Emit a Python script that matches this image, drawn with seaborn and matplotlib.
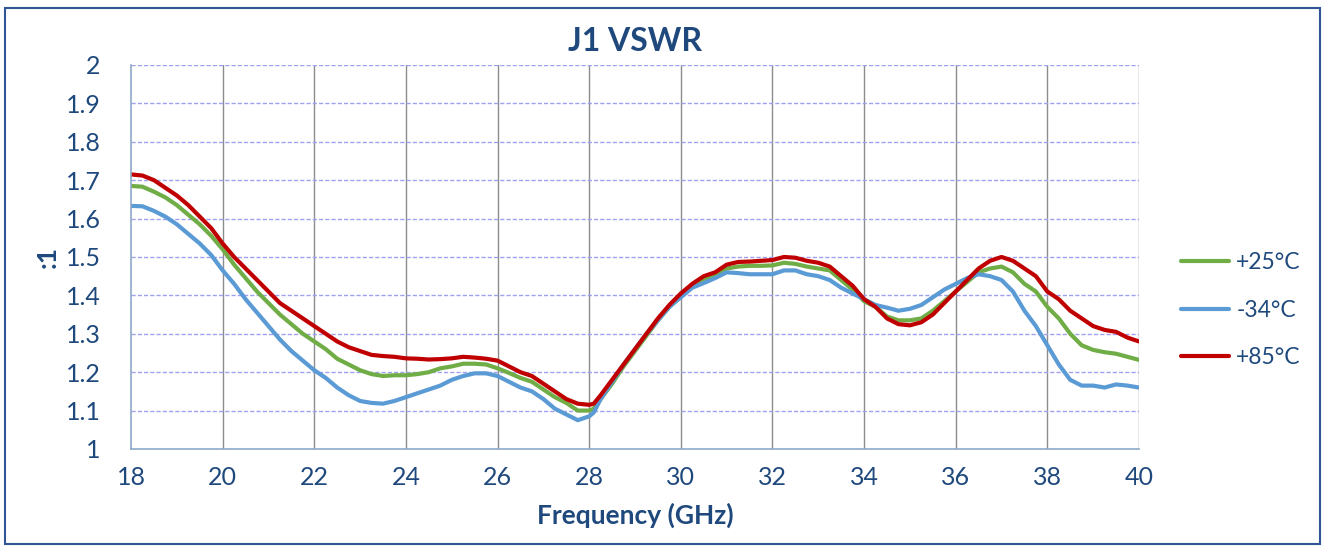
import numpy as np
import pandas as pd
import matplotlib
matplotlib.use("Agg")
import matplotlib.pyplot as plt
import matplotlib.patches as mpatches
import seaborn as sns

# ─────────────────────────────────────────────
# DATA
# ─────────────────────────────────────────────
freq_ghz = [18, 18.25, 18.5, 18.75, 19, 19.25, 19.5, 19.75, 20, 20.25, 20.5, 20.75,
            21, 21.25, 21.5, 21.75, 22, 22.25, 22.5, 22.75, 23, 23.25, 23.5, 23.75,
            24, 24.25, 24.5, 24.75, 25, 25.25, 25.5, 25.75, 26, 26.25, 26.5, 26.75,
            27, 27.25, 27.5, 27.75, 28, 28.1, 28.25, 28.5, 28.75, 29, 29.25, 29.5,
            29.75, 30, 30.25, 30.5, 30.75, 31, 31.25, 31.5, 31.75, 32, 32.25, 32.5,
            32.75, 33, 33.25, 33.5, 33.75, 34, 34.25, 34.5, 34.75, 35, 35.25, 35.5,
            35.75, 36, 36.25, 36.5, 36.75, 37, 37.25, 37.5, 37.75, 38, 38.25, 38.5,
            38.75, 39, 39.25, 39.5, 39.75, 40]

vswr_p25 = [1.685, 1.683, 1.67, 1.655, 1.635, 1.61, 1.585, 1.555, 1.52, 1.48, 1.445, 1.41,
            1.38, 1.35, 1.325, 1.30, 1.28, 1.26, 1.235, 1.22, 1.205, 1.195, 1.19, 1.192,
            1.192, 1.195, 1.20, 1.21, 1.215, 1.222, 1.222, 1.22, 1.21, 1.198, 1.185, 1.175,
            1.155, 1.135, 1.12, 1.10, 1.10, 1.105, 1.13, 1.17, 1.215, 1.255, 1.295, 1.335,
            1.37, 1.40, 1.425, 1.44, 1.455, 1.47, 1.475, 1.477, 1.477, 1.478, 1.485, 1.482,
            1.475, 1.47, 1.465, 1.44, 1.415, 1.385, 1.37, 1.345, 1.335, 1.335, 1.34, 1.36,
            1.385, 1.41, 1.435, 1.46, 1.47, 1.475, 1.46, 1.43, 1.41, 1.37, 1.34, 1.30,
            1.27, 1.258, 1.252, 1.248, 1.24, 1.232]

vswr_m34 = [1.633, 1.632, 1.62, 1.605, 1.585, 1.56, 1.535, 1.505, 1.465, 1.43, 1.39, 1.355,
            1.32, 1.285, 1.255, 1.23, 1.205, 1.185, 1.16, 1.14, 1.125, 1.12, 1.118, 1.125,
            1.135, 1.145, 1.155, 1.165, 1.18, 1.19, 1.197, 1.197, 1.19, 1.175, 1.16, 1.15,
            1.13, 1.105, 1.09, 1.075, 1.085, 1.095, 1.13, 1.175, 1.22, 1.26, 1.30, 1.335,
            1.37, 1.395, 1.42, 1.432, 1.445, 1.46, 1.458, 1.455, 1.455, 1.455, 1.465, 1.465,
            1.455, 1.45, 1.44, 1.42, 1.405, 1.39, 1.375, 1.368, 1.36, 1.365, 1.375, 1.395,
            1.415, 1.43, 1.445, 1.455, 1.45, 1.44, 1.41, 1.36, 1.32, 1.27, 1.22, 1.18,
            1.165, 1.165, 1.16, 1.168, 1.165, 1.16]

vswr_p85 = [1.715, 1.712, 1.70, 1.68, 1.66, 1.635, 1.605, 1.575, 1.535, 1.50, 1.47, 1.44,
            1.41, 1.38, 1.36, 1.34, 1.32, 1.30, 1.28, 1.265, 1.255, 1.245, 1.242, 1.24,
            1.236, 1.235, 1.233, 1.234, 1.236, 1.24, 1.238, 1.235, 1.23, 1.215, 1.20, 1.19,
            1.17, 1.15, 1.13, 1.118, 1.115, 1.118, 1.14, 1.18, 1.22, 1.26, 1.30, 1.34,
            1.375, 1.405, 1.43, 1.45, 1.46, 1.48, 1.487, 1.488, 1.49, 1.492, 1.50, 1.498,
            1.49, 1.485, 1.475, 1.45, 1.425, 1.39, 1.37, 1.34, 1.325, 1.322, 1.33, 1.35,
            1.38, 1.41, 1.44, 1.47, 1.49, 1.50, 1.49, 1.47, 1.45, 1.41, 1.39, 1.36,
            1.34, 1.32, 1.31, 1.305, 1.29, 1.28]

series_labels = ["+25°C", "-34°C", "+85°C"]
series_colors = ["#70AD47", "#5B9BD5", "#C00000"]

TEXT_BLUE = "#1F497D"

# ─────────────────────────────────────────────
# PLOT
# ─────────────────────────────────────────────
sns.set_theme(style="white")
plt.rcParams["font.family"] = ["Lato", "DejaVu Sans"]

df = pd.DataFrame({
    "freq": freq_ghz * 3,
    "vswr": vswr_p25 + vswr_m34 + vswr_p85,
    "series": sum([[s] * len(freq_ghz) for s in series_labels], []),
})

fig = plt.figure(figsize=(13.25, 5.46), dpi=100)
ax = fig.add_axes([0.0989, 0.1777, 0.7607, 0.7033])

sns.lineplot(data=df, x="freq", y="vswr", hue="series", hue_order=series_labels,
             palette=series_colors, linewidth=3, ax=ax, legend=False)

ax.set_xlim(18, 40)
ax.set_ylim(1, 2)
ax.set_xticks(np.arange(18, 41, 2))
ax.set_yticks(np.round(np.arange(1, 2.01, 0.1), 1))
ax.set_yticklabels([f"{v:g}" for v in np.arange(1, 2.01, 0.1).round(1)])

# gridlines: grey verticals, dashed light-blue horizontals
for x in np.arange(20, 41, 2):
    ax.axvline(x, color="#8C8C8C", linewidth=1, zorder=0)
for y in np.arange(1.1, 2.01, 0.1):
    ax.axhline(y, color="#A0A0F0", linewidth=1, linestyle=(0, (3, 1.5)), zorder=0)

for side in ["top", "right"]:
    ax.spines[side].set_visible(False)
for side in ["left", "bottom"]:
    ax.spines[side].set_color("#8EA9C8")
    ax.spines[side].set_linewidth(1.2)

ax.tick_params(axis="x", length=0, labelsize=18, labelcolor=TEXT_BLUE, pad=12)
ax.tick_params(axis="y", length=0, labelsize=18, labelcolor=TEXT_BLUE, pad=22)
ax.set_xlabel("Frequency (GHz)", fontsize=19, fontweight="bold", color=TEXT_BLUE, labelpad=10)
ax.set_ylabel(":1", fontsize=19, fontweight="bold", color=TEXT_BLUE, labelpad=4)
ax.set_title("J1 VSWR", fontsize=23, fontweight="bold", color=TEXT_BLUE, pad=10)

handles = [plt.Line2D([0], [0], color=c, linewidth=3) for c in series_colors]
fig.legend(handles, series_labels, loc="center left", bbox_to_anchor=(0.876, 0.432),
           frameon=False, fontsize=16.5, labelcolor=TEXT_BLUE, handlelength=2.1,
           handletextpad=0.3, labelspacing=1.15)

# outer chart border
fig.patches.append(mpatches.Rectangle((0.004, 0.004), 0.992, 0.982, transform=fig.transFigure,
                                      fill=False, edgecolor="#2F5597", linewidth=1.5))

fig.savefig("out.png", dpi=100)
